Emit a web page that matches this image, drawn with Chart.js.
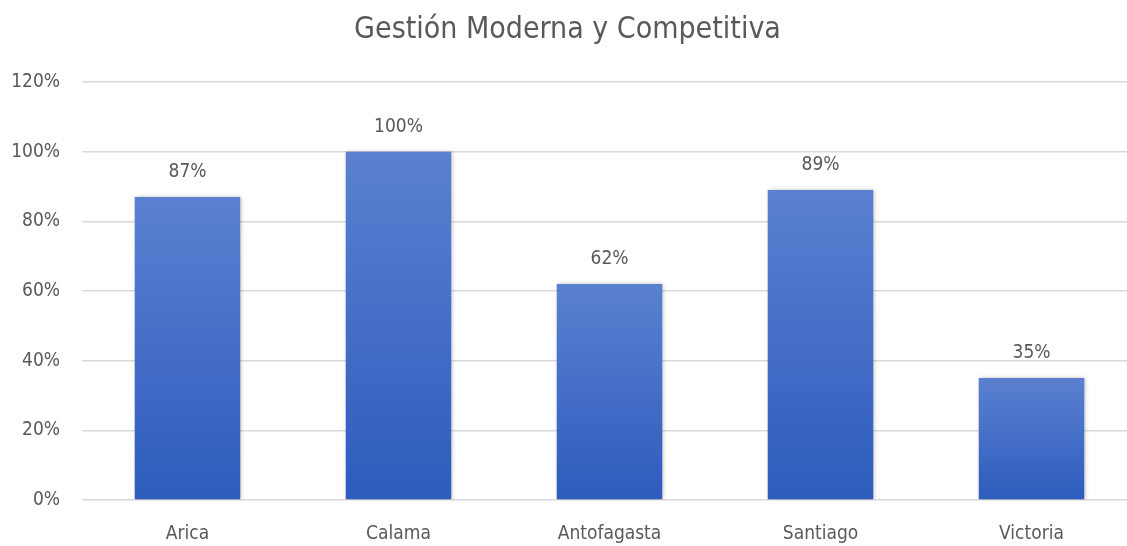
<!DOCTYPE html>
<html>
<head>
<meta charset="utf-8">
<script src="https://cdn.jsdelivr.net/npm/chart.js@4/dist/chart.umd.min.js"></script>
<style>
	html, body { margin: 0; padding: 0; background: #fff; }
	#wrap { width: 1127px; height: 546px; }
</style>
</head>
<body>
<div id="wrap"><canvas id="chart"></canvas></div>
<script>
const categories = ['Arica', 'Calama', 'Antofagasta', 'Santiago', 'Victoria'];
const values = [87, 100, 62, 89, 35];
const yTicks = [0, 20, 40, 60, 80, 100, 120];

const FONT = "'Liberation Sans Narrow', 'DejaVu Sans Condensed', sans-serif";
const TEXT = '#595959';

const barFill = (ctx) => {
	const chart = ctx.chart;
	const area = chart.chartArea;
	if (!area || ctx.parsed === undefined) return '#4472c4';
	const y = chart.scales.y;
	const top = y.getPixelForValue(ctx.parsed.y);
	const bottom = y.getPixelForValue(0);
	const g = chart.ctx.createLinearGradient(0, top, 0, bottom);
	g.addColorStop(0, '#5b80d0');
	g.addColorStop(1, '#2d5cbd');
	return g;
};

// the original plot runs past the right edge of the picture
const widenPlot = {
	id: 'widenPlot',
	afterLayout(chart) {
		const extra = 10;
		const x = chart.scales.x;
		x.right += extra;
		x.width += extra;
		x.configure();
		chart.chartArea.right += extra;
		chart.chartArea.width += extra;
	},
};

const valueLabels = {
	id: 'valueLabels',
	afterDatasetsDraw(chart) {
		const ctx = chart.ctx;
		const meta = chart.getDatasetMeta(0);
		ctx.save();
		ctx.font = '19px ' + FONT;
		ctx.fillStyle = TEXT;
		ctx.textAlign = 'center';
		ctx.textBaseline = 'middle';
		meta.data.forEach((bar, i) => {
			ctx.fillText(values[i] + '%', bar.x, bar.y - 25);
		});
		ctx.restore();
	},
};

const barShadow = {
	id: 'barShadow',
	beforeDatasetDraw(chart) {
		const ctx = chart.ctx;
		ctx.save();
		ctx.shadowColor = 'rgba(0,0,0,0.25)';
		ctx.shadowBlur = 4;
		ctx.shadowOffsetX = 1;
		ctx.shadowOffsetY = 0;
	},
	afterDatasetDraw(chart) {
		chart.ctx.restore();
	},
};

new Chart(document.getElementById('chart'), {
	type: 'bar',
	data: {
		labels: categories,
		datasets: [
			{
				data: values,
				backgroundColor: barFill,
				borderWidth: 0,
				categoryPercentage: 1,
				barPercentage: 0.5,
			},
		],
	},
	options: {
		responsive: true,
		maintainAspectRatio: false,
		animation: false,
		layout: { padding: { left: 8, right: 0, top: 9, bottom: 2 } },
		plugins: {
			legend: { display: false },
			tooltip: { enabled: false },
			title: {
				display: true,
				text: 'Gestión Moderna y Competitiva',
				color: TEXT,
				font: { family: FONT, size: 30, weight: 'normal' },
				padding: { top: 3, bottom: 34 },
			},
		},
		scales: {
			x: {
				grid: { display: false, drawTicks: false },
				border: { display: false },
				ticks: { color: TEXT, font: { family: FONT, size: 19 }, padding: 23, maxRotation: 0 },
				afterFit: (axis) => {
					axis.height = 44;
				},
			},
			y: {
				min: 0,
				max: 120,
				afterBuildTicks: (axis) => {
					axis.ticks = yTicks.map((v) => ({ value: v }));
				},
				afterFit: (axis) => {
					axis.width = 74;
				},
				grid: { color: '#d9d9d9', lineWidth: 1.5, drawTicks: false },
				border: { display: false },
				ticks: {
					color: TEXT,
					font: { family: FONT, size: 19 },
					padding: 22,
					callback: (v) => v + '%',
				},
			},
		},
	},
	plugins: [widenPlot, barShadow, valueLabels],
});
</script>
</body>
</html>
